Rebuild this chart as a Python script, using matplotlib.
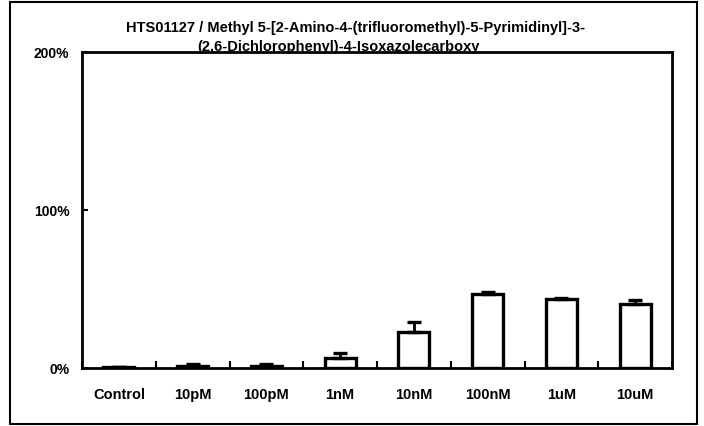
import matplotlib
matplotlib.use("Agg")
import matplotlib.pyplot as plt
import numpy as np

categories = ["Control", "10pM", "100pM", "1nM", "10nM", "100nM", "1uM", "10uM"]
values = [0.5, 1.5, 1.5, 6.5, 23.0, 47.0, 43.5, 40.5]
errors = [0.3, 0.8, 1.0, 3.0, 6.0, 1.0, 0.8, 2.5]
yticks = [0, 100, 200]
yticklabels = ["0%", "100%", "200%"]
title_line1 = "HTS01127 / Methyl 5-[2-Amino-4-(trifluoromethyl)-5-Pyrimidinyl]-3-"
title_line2 = "(2,6-Dichlorophenyl)-4-Isoxazolecarboxy"

plt.rcParams['font.family'] = ['Liberation Sans', 'DejaVu Sans']

fig = plt.figure(figsize=(7.04, 4.27), dpi=100)
W, H = 704, 427
ax = fig.add_axes([82 / W, 1 - 369 / H, (672 - 82) / W, (369 - 53) / H])

x = np.arange(len(categories))
lower = np.zeros(len(errors))
ax.bar(x, values, width=0.42, color="white", edgecolor="black", linewidth=2.4, zorder=3)
ax.errorbar(x, values, yerr=[lower, errors], fmt="none", ecolor="black",
            elinewidth=2, capsize=5, capthick=2.4, zorder=4)

ax.set_xlim(-0.5, len(categories) - 0.5)
ax.set_ylim(0, 200)
ax.set_yticks(yticks)
ax.set_yticklabels(yticklabels, fontsize=10, fontweight="bold")
ax.set_xticks(x)
ax.set_xticklabels(categories, fontsize=10.5, fontweight="bold")
ax.tick_params(axis="x", length=0, pad=14)
ax.set_xticks(np.arange(len(categories) + 1) - 0.5, minor=True)
ax.tick_params(axis="x", which="minor", direction="in", length=5, width=1.5)
ax.tick_params(axis="y", direction="in", length=4, width=1.5, pad=9)
for s in ax.spines.values():
    s.set_linewidth(2)
ax.set_facecolor("white")

fig.text(356 / W, 1 - 28 / H, title_line1, ha="center", va="center", fontsize=10.5,
         fontweight="bold")
fig.text(338 / W, 1 - 47 / H, title_line2, ha="center", va="center", fontsize=10.5,
         fontweight="bold", zorder=5)

# outer figure frame
fig.patches.append(plt.Rectangle((10 / W, 2 / H), 687 / W, 422 / H, transform=fig.transFigure,
                                 fill=False, edgecolor="black", linewidth=1.5))

fig.savefig("out.png", dpi=100)
